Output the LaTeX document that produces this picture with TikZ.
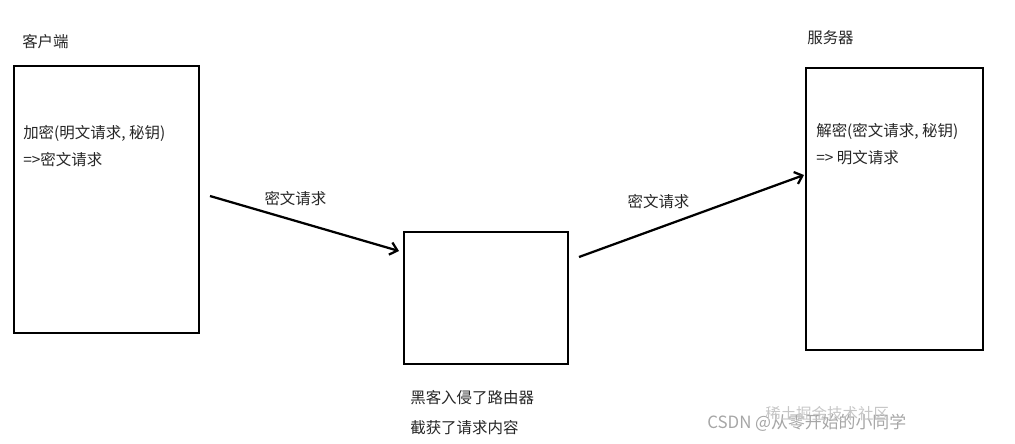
\documentclass[tikz,border=0pt]{standalone}
\usepackage{fontspec}
\setmainfont{Noto Sans CJK SC}
\usetikzlibrary{arrows.meta}
\begin{document}
\begin{tikzpicture}[x=0.025cm,y=-0.025cm]
	\tikzset{box/.style = {shape=rectangle,draw,line width=1.7pt}}
	\tikzset{txt/.style = {anchor=west,inner sep=0pt,text=black!85,font=\fontsize{11}{13}\selectfont}}
	\tikzset{edge/.style = {-{Straight Barb[length=5pt,width=9pt]},line width=1.6pt}}
	\useasboundingbox (0,0) rectangle (1015,443);
	\node[box,minimum width=4.625cm,minimum height=6.675cm] (client) at (106.5,199.5) {};
	\node[box,minimum width=4.1cm,minimum height=3.3cm] (router) at (486,298) {};
	\node[box,minimum width=4.425cm,minimum height=7.05cm] (server) at (894.5,209) {};
	\node[txt] (clientname) at (22,42) {客户端};
	\node[txt] (servername) at (807,38) {服务器};
	\node[txt] (enc) at (23,133) {加密(明文请求, 秘钥)};
	\node[txt] (encres) at (23,160) {=>密文请求};
	\node[txt] (dec) at (816,131) {解密(密文请求, 秘钥)};
	\node[txt] (decres) at (816,158) {=> 明文请求};
	\node[txt] (hack) at (410,398) {黑客入侵了路由器};
	\node[txt] (steal) at (410,428) {截获了请求内容};
	\node[txt,text=gray!70,font=\fontsize{12}{14}\selectfont] (mark) at (707,423) {CSDN @从零开始的小同学};
	\node[txt,text=gray!45] (mark2) at (765,414) {稀土掘金技术社区};
	\coordinate (out1) at (210,196);
	\coordinate (in1) at (399,251);
	\coordinate (out2) at (579,257);
	\coordinate (in2) at (804,175);
	\path[edge,draw] (out1) -- node[above right,pos=0.3,xshift=-0.2cm,yshift=0.03cm,text=black!85,font=\fontsize{11}{13}\selectfont] {密文请求} (in1);
	\path[edge,draw] (out2) -- node[above left,pos=0.45,xshift=0.375cm,yshift=0.15cm,text=black!85,font=\fontsize{11}{13}\selectfont] {密文请求} (in2);
\end{tikzpicture}
\end{document}
